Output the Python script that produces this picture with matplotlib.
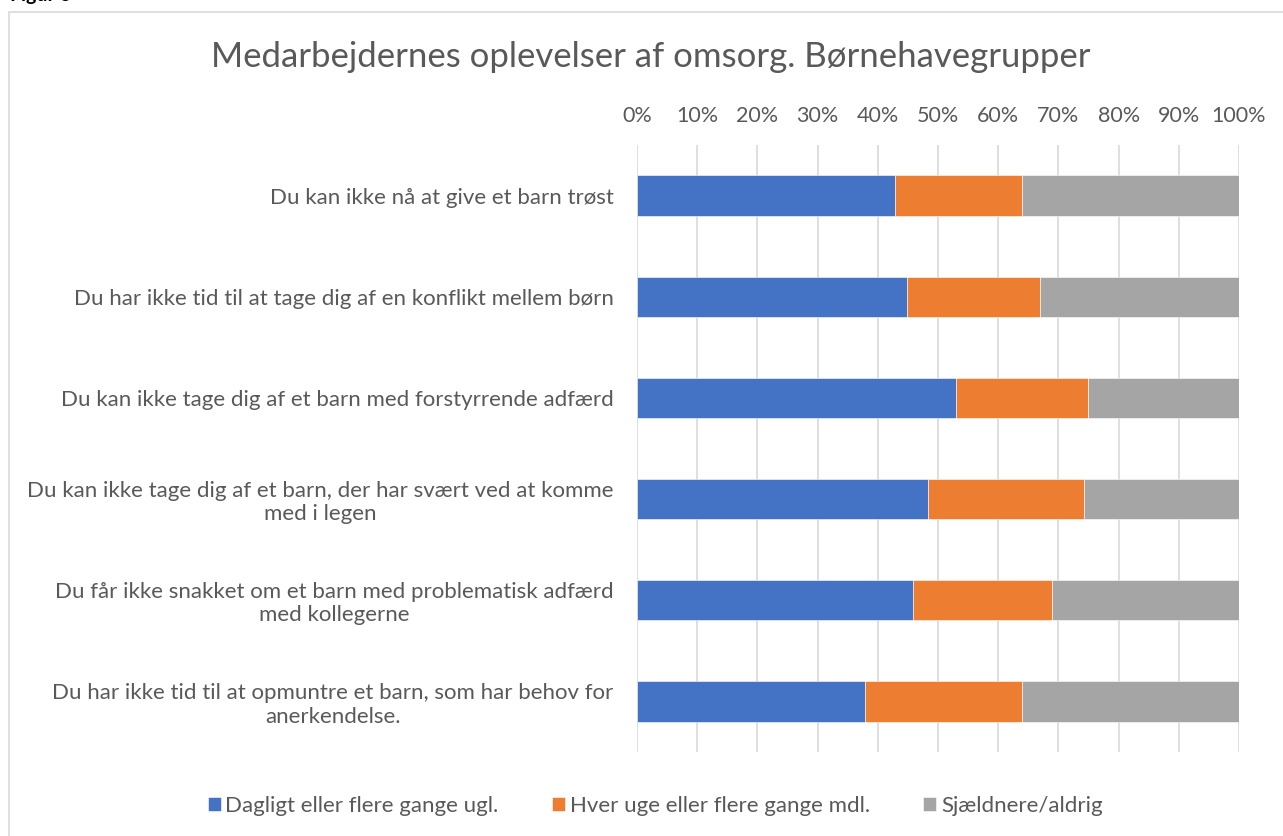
import matplotlib
matplotlib.use("Agg")
import matplotlib.pyplot as plt
from matplotlib.patches import Rectangle
import numpy as np

plt.rcParams['font.family'] = ['Lato', 'DejaVu Sans']

categories = [
    "Du kan ikke nå at give et barn trøst",
    "Du har ikke tid til at tage dig af en konflikt mellem børn",
    "Du kan ikke tage dig af et barn med forstyrrende adfærd",
    "Du kan ikke tage dig af et barn, der har svært ved at komme\nmed i legen",
    "Du får ikke snakket om et barn med problematisk adfærd\nmed kollegerne",
    "Du har ikke tid til at opmuntre et barn, som har behov for\nanerkendelse.",
]
series_names = ["Dagligt eller flere gange ugl.", "Hver uge eller flere gange mdl.", "Sjældnere/aldrig"]
daily = [42.9, 44.9, 53.0, 48.4, 45.9, 37.9]
weekly = [21.0, 22.1, 21.9, 25.8, 23.0, 26.0]
rarely = [36.1, 33.0, 25.1, 25.8, 31.1, 36.1]
colors = ["#4472C4", "#ED7D31", "#A5A5A5"]
xticklabels = ["0%", "10%", "20%", "30%", "40%", "50%", "60%", "70%", "80%", "90%", "100%"]

W, H = 1283, 836
fig = plt.figure(figsize=(W / 100, H / 100), dpi=100)

# chart border
border = Rectangle((9 / W, -0.01), 1.02, 1 - 12 / H + 0.01, transform=fig.transFigure,
                   facecolor='none', edgecolor='#D9D9D9', linewidth=1.2, zorder=-5)
fig.patches.append(border)
fig.text(10 / W, 1 - 1 / H, "Figur 6", fontsize=14, fontweight='bold', ha='left', va='baseline', color='black')

ax = fig.add_axes([637 / W, 1 - 752 / H, 602 / W, 607 / H])
ax.set_zorder(2)
ax.patch.set_alpha(0)
y = np.arange(len(categories))
left = np.zeros(len(categories))
for vals, name, c in zip([daily, weekly, rarely], series_names, colors):
    ax.barh(y, vals, left=left, height=0.4, color=c, edgecolor='white', linewidth=0.4, label=name, zorder=3)
    left = left + np.array(vals)

ax.set_xlim(0, 100)
ax.set_ylim(len(categories) - 0.5, -0.5)
ax.set_xticks(np.arange(0, 101, 10))
ax.set_xticklabels(xticklabels)
ax.xaxis.tick_top()
ax.set_yticks(y)
ax.set_yticklabels(categories, ha='right')
ax.tick_params(axis='x', length=0, labelsize=15.5, colors='#595959', pad=14)
ax.tick_params(axis='y', length=0, labelsize=16, colors='#595959', pad=17)
for lab in ax.get_yticklabels():
    lab.set_multialignment('center')
ax.grid(axis='x', color='#D9D9D9', linewidth=1.2, zorder=0)
for s in ax.spines.values():
    s.set_visible(False)

fig.suptitle("Medarbejdernes oplevelser af omsorg. Børnehavegrupper", x=651 / W, y=1 - 57 / H,
             va='center', fontsize=25, color='#595959')

handles, labels = ax.get_legend_handles_labels()
fig.legend(handles, labels, loc='center', bbox_to_anchor=(655 / W, 1 - 806 / H), ncol=3, frameon=False,
           fontsize=16, labelcolor='#595959', handlelength=0.6, handleheight=0.6, handletextpad=0.2,
           columnspacing=2.4)

fig.savefig("out.png", dpi=100)
